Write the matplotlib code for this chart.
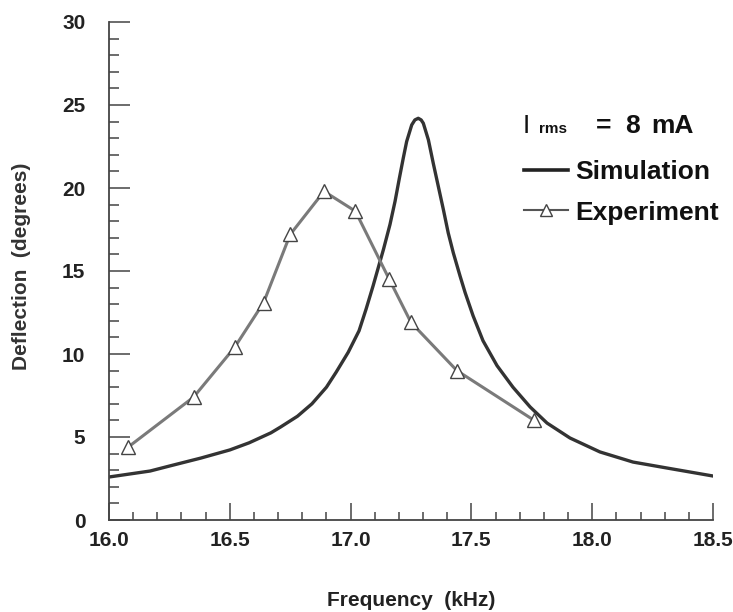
import numpy as np
import matplotlib
matplotlib.use('Agg')
import matplotlib.pyplot as plt
from matplotlib.lines import Line2D
from matplotlib.ticker import MultipleLocator

plt.rcParams['font.family'] = ['Liberation Sans', 'DejaVu Sans']

# Simulación
sim_f = [16.00, 16.17, 16.25, 16.38, 16.50, 16.58, 16.67, 16.71, 16.78, 16.84,
         16.90, 16.94, 16.99, 17.035, 17.064, 17.093, 17.136, 17.163, 17.184, 17.202,
         17.218, 17.232, 17.253, 17.266, 17.280, 17.292, 17.301, 17.322, 17.342, 17.363,
         17.384, 17.404, 17.425, 17.453, 17.474, 17.507, 17.548, 17.606, 17.672, 17.743,
         17.813, 17.908, 18.032, 18.169, 18.310, 18.500]
sim_d = [2.59, 2.95, 3.25, 3.73, 4.22, 4.65, 5.25, 5.60, 6.25, 7.00,
         8.00, 8.90, 10.1, 11.4, 12.7, 14.1, 16.3, 17.8, 19.2, 20.6,
         21.8, 22.8, 23.8, 24.1, 24.2, 24.1, 23.9, 22.9, 21.5, 20.1,
         18.7, 17.3, 16.1, 14.7, 13.7, 12.3, 10.8, 9.3, 8.0, 6.81,
         5.84, 4.94, 4.10, 3.49, 3.13, 2.65]

# Experimento
exp_f = [16.08, 16.35, 16.52, 16.64, 16.75, 16.89, 17.02, 17.16, 17.25, 17.44, 17.76]
exp_d = [4.4, 7.4, 10.4, 13.1, 17.2, 19.8, 18.6, 14.5, 11.9, 9.0, 6.0]

W, H = 733, 612
fig = plt.figure(figsize=(W / 100, H / 100), dpi=100)
ax = fig.add_axes([109 / W, 1 - 520 / H, (713 - 109) / W, (520 - 22) / H])

ax.plot(sim_f, sim_d, color='#333333', lw=2.4, solid_joinstyle='round')
ax.plot(exp_f, exp_d, color='#7a7a7a', lw=2.2, marker='^', markersize=10,
        markerfacecolor='white', markeredgecolor='#444444', markeredgewidth=1.0)

ax.set_xlim(16.0, 18.5)
ax.set_ylim(0, 30)
ax.spines['top'].set_visible(False)
ax.spines['right'].set_visible(False)
for s in ['left', 'bottom']:
    ax.spines[s].set_color('#444444')
    ax.spines[s].set_linewidth(1.3)

ax.set_xticks([16.0, 16.5, 17.0, 17.5, 18.0, 18.5])
ax.set_xticklabels(['16.0', '16.5', '17.0', '17.5', '18.0', '18.5'])
ax.xaxis.set_minor_locator(MultipleLocator(0.1))
ax.yaxis.set_major_locator(MultipleLocator(5))
ax.yaxis.set_minor_locator(MultipleLocator(1))
ax.tick_params(axis='x', which='major', direction='in', length=12, width=1.1,
               color='#444444', pad=8, labelsize=15)
ax.tick_params(axis='x', which='minor', direction='in', length=6, width=1.1, color='#444444')
ax.tick_params(axis='y', which='major', direction='in', length=15, width=1.1,
               color='#444444', pad=17, labelsize=15)
ax.tick_params(axis='y', which='minor', direction='in', length=7, width=1.1, color='#444444')
for lab in ax.get_xticklabels() + ax.get_yticklabels():
    lab.set_fontweight('bold')
    lab.set_color('#222222')

fig.text(411 / W, 1 - 600 / H, 'Frequency  (kHz)', ha='center', va='center',
         fontsize=15, fontweight='bold', color='#222222')
fig.text(22 / W, 1 - 266 / H, 'Deflection  (degrees)', ha='center', va='center',
         rotation=90, fontsize=15, fontweight='bold', color='#333333')

# Texto de corriente
yb = 1 - 133 / H
fig.text(523 / W, yb, 'I', fontsize=19, color='#111111', va='baseline')
fig.text(539 / W, yb, 'rms', fontsize=11, fontweight='bold', color='#111111', va='baseline')
fig.text(596 / W, yb, '=', fontsize=19, fontweight='bold', color='#111111', va='baseline')
fig.text(625 / W, yb, '8', fontsize=19, fontweight='bold', color='#111111', va='baseline')
fig.text(651 / W, yb, 'mA', fontsize=19, fontweight='bold', color='#111111', va='baseline')

handles = [Line2D([], [], color='#222222', lw=2.6),
           Line2D([], [], color='#555555', lw=1.5, marker='^', markersize=8,
                  markerfacecolor='white', markeredgecolor='#444444')]
leg = fig.legend(handles, ['Simulation', 'Experiment'], loc='upper left',
                 bbox_to_anchor=(524 / W, 1 - 160 / H), frameon=False,
                 prop={'size': 19, 'weight': 'bold'}, handlelength=1.67,
                 handletextpad=0.27, labelspacing=0.63, borderpad=0, borderaxespad=0)
for t in leg.get_texts():
    t.set_color('#111111')

fig.savefig('out.png', dpi=100)
